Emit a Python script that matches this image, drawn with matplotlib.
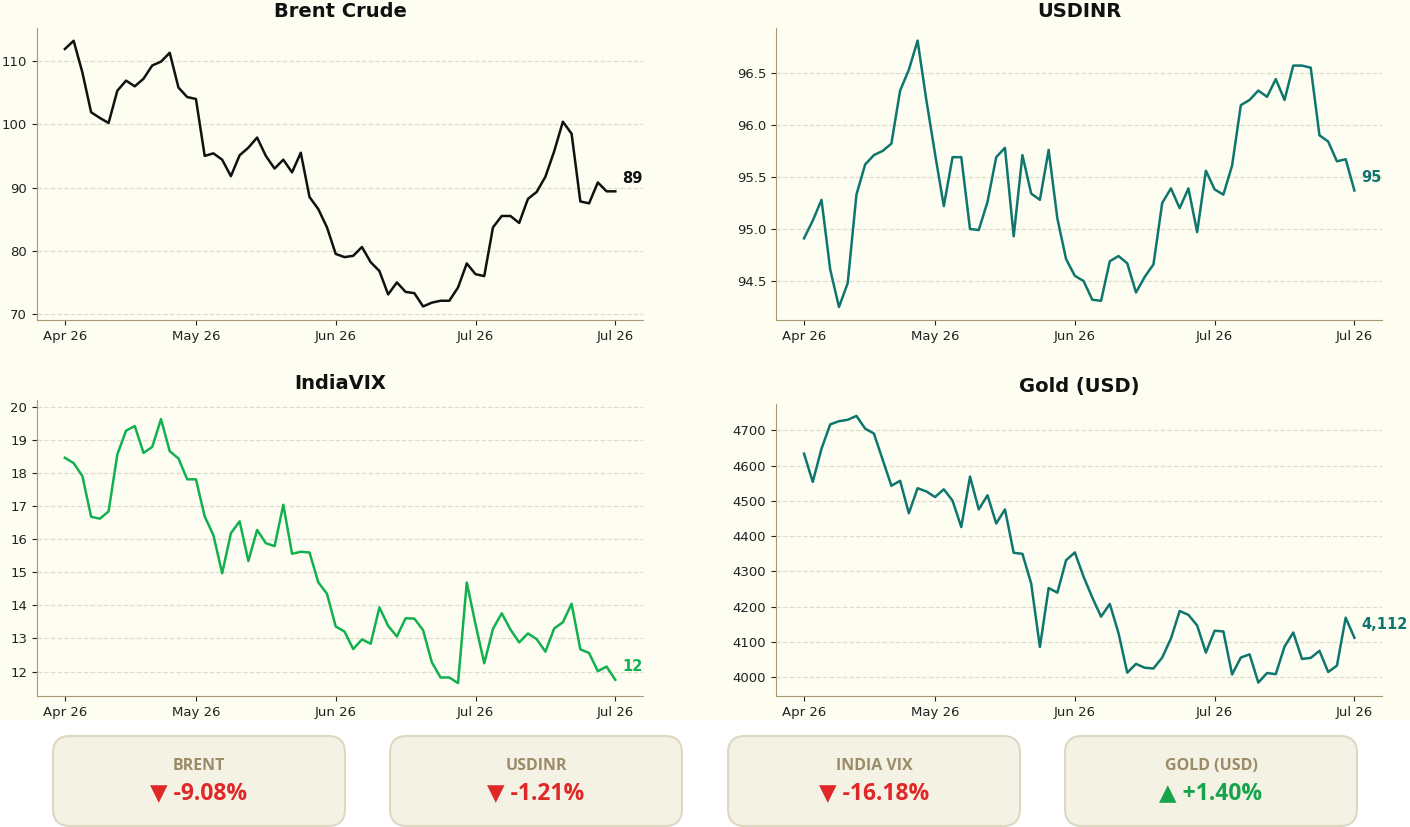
import matplotlib
matplotlib.use("Agg")
import matplotlib.pyplot as plt
from matplotlib.patches import FancyBboxPatch, Rectangle

tick_pos = [0, 15, 31, 47, 63]
tick_labels = ["Apr 26", "May 26", "Jun 26", "Jul 26", "Jul 26"]

brent = [111.9, 113.2, 108.2, 101.9, 101.0, 100.2, 105.3, 106.9, 106.0, 107.2,
         109.3, 109.9, 111.3, 105.8, 104.3, 104.0, 95.0, 95.4, 94.4, 91.8,
         95.1, 96.3, 97.9, 95.0, 93.0, 94.4, 92.4, 95.5, 88.5, 86.6,
         83.7, 79.5, 79.0, 79.2, 80.6, 78.2, 76.8, 73.1, 75.0, 73.5,
         73.3, 71.2, 71.8, 72.1, 72.1, 74.2, 78.0, 76.3, 76.0, 83.7,
         85.5, 85.5, 84.4, 88.2, 89.3, 91.7, 95.7, 100.4, 98.5, 87.8,
         87.5, 90.8, 89.4, 89.4]
usdinr = [94.91, 95.08, 95.28, 94.61, 94.25, 94.48, 95.33, 95.62, 95.71, 95.75,
          95.82, 96.33, 96.53, 96.81, 96.24, 95.72, 95.22, 95.69, 95.69, 95.00,
          94.99, 95.26, 95.69, 95.78, 94.93, 95.71, 95.34, 95.28, 95.76, 95.10,
          94.71, 94.55, 94.50, 94.32, 94.31, 94.69, 94.74, 94.67, 94.39, 94.54,
          94.66, 95.25, 95.39, 95.20, 95.39, 94.97, 95.56, 95.38, 95.33, 95.61,
          96.19, 96.24, 96.33, 96.27, 96.44, 96.24, 96.57, 96.57, 96.55, 95.90,
          95.84, 95.65, 95.67, 95.37]
vix = [18.46, 18.30, 17.91, 16.68, 16.62, 16.84, 18.56, 19.28, 19.42, 18.61,
       18.79, 19.63, 18.66, 18.44, 17.81, 17.81, 16.69, 16.12, 14.97, 16.18,
       16.54, 15.34, 16.28, 15.88, 15.79, 17.04, 15.56, 15.62, 15.60, 14.70,
       14.35, 13.36, 13.21, 12.68, 12.97, 12.84, 13.94, 13.38, 13.06, 13.61,
       13.60, 13.25, 12.28, 11.82, 11.82, 11.65, 14.69, 13.43, 12.25, 13.29,
       13.76, 13.27, 12.88, 13.15, 12.98, 12.60, 13.30, 13.49, 14.05, 12.67,
       12.56, 12.01, 12.15, 11.75]
gold = [4634, 4554, 4648, 4717, 4726, 4730, 4741, 4705, 4691, 4617,
        4543, 4557, 4465, 4536, 4527, 4511, 4533, 4501, 4426, 4569,
        4476, 4516, 4436, 4476, 4353, 4350, 4266, 4086, 4253, 4240,
        4332, 4354, 4285, 4226, 4172, 4208, 4125, 4013, 4038, 4027,
        4025, 4056, 4110, 4188, 4177, 4147, 4070, 4132, 4130, 4008,
        4056, 4065, 3985, 4012, 4009, 4087, 4127, 4052, 4055, 4075,
        4015, 4033, 4169, 4112]

card_names = ["BRENT", "USDINR", "INDIA VIX", "GOLD (USD)"]
card_changes = [-9.08, -1.21, -16.18, 1.40]

BG = "#fdfdf1"
SPINE = "#a89a70"
GRID = "#deddcc"

fig = plt.figure(figsize=(14.1, 8.27), dpi=100)
fig.patch.set_facecolor("white")
fig.add_artist(Rectangle((0, 1 - 720 / 827), 1, 720 / 827, transform=fig.transFigure,
                         facecolor=BG, edgecolor="none", zorder=-10))

panels = [
    ("Brent Crude", brent, "#111111", (0.0262, 0.613, 0.430, 0.353), (69.05, 115.2), [70, 80, 90, 100, 110], "{:.0f}"),
    ("USDINR", usdinr, "#0f766e", (0.5504, 0.613, 0.430, 0.353), (94.125, 96.93), [94.5, 95.0, 95.5, 96.0, 96.5], "{:.0f}"),
    ("IndiaVIX", vix, "#12b04e", (0.0262, 0.158, 0.430, 0.358), (11.25, 20.2), list(range(12, 21)), "{:.0f}"),
    ("Gold (USD)", gold, "#0f766e", (0.5504, 0.158, 0.430, 0.354), (3946, 4776), list(range(4000, 4701, 100)), "{:,.0f}"),
]

for title, data, color, rect, ylim, yticks, fmt in panels:
    ax = fig.add_axes(rect)
    ax.set_facecolor(BG)
    x = range(len(data))
    ax.plot(x, data, color=color, lw=1.8)
    ax.set_xlim(-3.2, len(data) - 1 + 3.2)
    ax.set_ylim(*ylim)
    ax.set_yticks(yticks)
    if title == "USDINR":
        ax.set_yticklabels(["{:.1f}".format(v) for v in yticks])
    ax.set_xticks(tick_pos)
    ax.set_xticklabels(tick_labels)
    ax.tick_params(labelsize=9.5, colors="#222222")
    ax.grid(axis="y", color=GRID, ls="--", lw=0.9)
    ax.set_axisbelow(True)
    for s in ["top", "right"]:
        ax.spines[s].set_visible(False)
    for s in ["left", "bottom"]:
        ax.spines[s].set_color(SPINE)
    ax.set_title(title, fontsize=14, fontweight="bold", color="#111111", pad=8)
    ax.annotate(fmt.format(data[-1]), (len(data) - 1, data[-1]), xytext=(5, 4),
                textcoords="offset points", color=color, fontsize=10.5,
                fontweight="bold", va="bottom", ha="left")

card_x = [53, 390, 728, 1065]
for cx, name, chg in zip(card_x, card_names, card_changes):
    x0 = cx / 1410
    w = 292 / 1410
    y0 = 1 - 826 / 827
    h = 90 / 827
    fig.add_artist(FancyBboxPatch((x0, y0), w, h, transform=fig.transFigure,
                                  boxstyle="round,pad=0,rounding_size=0.012",
                                  facecolor="#f4f2e5", edgecolor="#ddd8c2", lw=1.5,
                                  mutation_aspect=1410 / 827))
    xc = x0 + w / 2
    fig.text(xc, 1 - 766 / 827, name, ha="center", va="center", fontsize=11.5,
             fontweight="bold", color="#9b8b66", family="Open Sans")
    up = chg >= 0
    col = "#16a34a" if up else "#e02828"
    arrow = "▲" if up else "▼"
    fig.text(xc, 1 - 793 / 827, "{} {:+.2f}%".format(arrow, chg), ha="center",
             va="center", fontsize=16.5, fontweight="bold", color=col,
             family=["Open Sans", "DejaVu Sans"])

fig.savefig("out.png", dpi=100, facecolor=fig.get_facecolor())
